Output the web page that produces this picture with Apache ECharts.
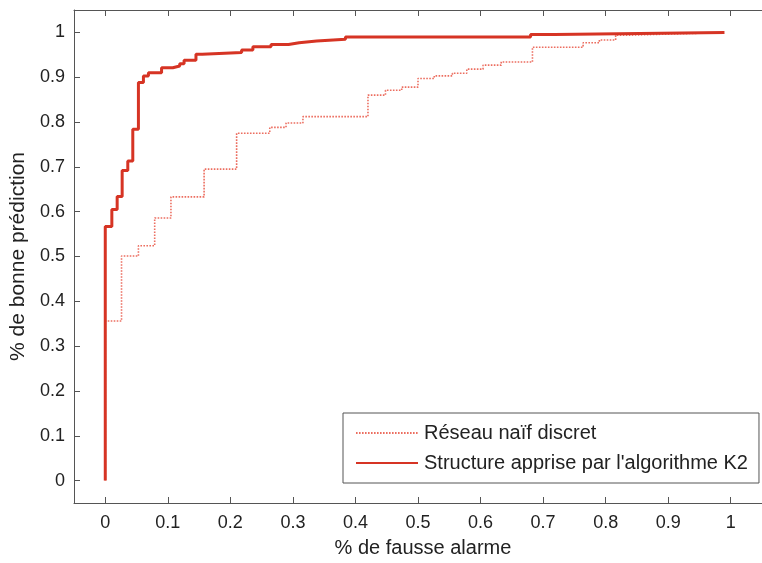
<!DOCTYPE html>
<html><head><meta charset="utf-8">
<script src="https://cdn.jsdelivr.net/npm/echarts@6/dist/echarts.min.js"></script>
<style>html,body{margin:0;padding:0;background:#fff}#c{width:762px;height:563px}</style>
</head><body><div id="c"></div>
<script>
const tickValues = [0, 0.1, 0.2, 0.3, 0.4, 0.5, 0.6, 0.7, 0.8, 0.9, 1];
const seriesNames = ['Réseau naïf discret', "Structure apprise par l'algorithme K2"];
// step points: x where the curve jumps, new y value
const naiveX = [0, 0, 0.026, 0.053, 0.079, 0.105, 0.158, 0.210, 0.263, 0.289, 0.316, 0.420, 0.448, 0.474, 0.500, 0.526, 0.555, 0.578, 0.604, 0.633, 0.683, 0.764, 0.790, 0.816, 0.842, 0.947];
const naiveY = [0, 0.356, 0.501, 0.524, 0.586, 0.633, 0.695, 0.775, 0.788, 0.798, 0.812, 0.860, 0.871, 0.878, 0.897, 0.903, 0.909, 0.918, 0.927, 0.934, 0.967, 0.977, 0.983, 0.994, 0.998, 0.998];
const k2X = [0, 0, 0.0105, 0.019, 0.027, 0.036, 0.044, 0.053, 0.061, 0.069, 0.090, 0.108, 0.119, 0.126, 0.145, 0.155, 0.218, 0.236, 0.265, 0.293, 0.310, 0.338, 0.384, 0.680, 0.718, 0.990];
const k2Y = [0, 0.567, 0.605, 0.634, 0.692, 0.713, 0.784, 0.888, 0.903, 0.910, 0.921, 0.925, 0.930, 0.938, 0.951, 0.955, 0.961, 0.968, 0.973, 0.977, 0.981, 0.985, 0.990, 0.9956, 1.0, 1.0];

const zip = (xs, ys) => xs.map((x, i) => [x, ys[i]]);
const FONT = "'Liberation Sans', Arial, Helvetica, sans-serif";
const AX = '#555';
const TXT = '#222';
const RED = 'rgb(214,52,36)';
const PINK = 'rgb(236,110,96)';

const chart = echarts.init(document.getElementById('c'), null, {renderer: 'canvas'});
const axisCommon = {
  type: 'value', min: -0.05, max: 1.05,
  axisLine: {show: true, onZero: false, lineStyle: {color: AX, width: 1}},
  axisTick: {show: true, inside: true, length: 6, lineStyle: {color: AX}, customValues: tickValues},
  splitLine: {show: false}
};
chart.setOption({
  animation: false,
  backgroundColor: '#fff',
  grid: {left: 74, top: 10, width: 702, height: 495, containLabel: false},
  xAxis: [
    Object.assign({}, axisCommon, {
      position: 'bottom',
      name: '% de fausse alarme', nameLocation: 'middle', nameGap: 35,
      nameTextStyle: {fontFamily: FONT, fontSize: 20, color: TXT, padding: [0, 0, 0, 10]},
      axisLabel: {show: true, margin: 11, fontFamily: FONT, fontSize: 18, color: TXT, customValues: tickValues}
    }),
    Object.assign({}, axisCommon, {
      position: 'top',
      axisLabel: {show: false}
    })
  ],
  yAxis: [
    Object.assign({}, axisCommon, {
      position: 'left',
      name: '% de bonne prédiction', nameLocation: 'middle', nameGap: 44,
      nameTextStyle: {fontFamily: FONT, fontSize: 21, color: TXT},
      axisLabel: {show: true, margin: 9, fontFamily: FONT, fontSize: 18, color: TXT, customValues: tickValues}
    })
  ],
  legend: {
    orient: 'vertical', left: 343, top: 413,
    padding: [10, 11, 10, 12],
    itemWidth: 62, itemHeight: 18, itemGap: 10,
    borderColor: AX, borderWidth: 1, backgroundColor: '#fff',
    itemStyle: {opacity: 0},
    textStyle: {fontFamily: FONT, fontSize: 20, color: TXT, padding: [0, 0, 0, 1]},
    data: seriesNames
  },
  series: [
    {
      name: seriesNames[0], type: 'line', step: 'end', symbol: 'none',
      xAxisIndex: 0, yAxisIndex: 0,
      lineStyle: {color: PINK, width: 1.6, type: [1.6, 1.4]},
      itemStyle: {color: PINK},
      data: zip(naiveX, naiveY)
    },
    {
      name: seriesNames[1], type: 'line', step: 'end', symbol: 'none',
      xAxisIndex: 0, yAxisIndex: 0,
      lineStyle: {color: RED, width: 3},
      itemStyle: {color: RED},
      data: zip(k2X, k2Y)
    }
  ]
});
</script>
</body></html>
